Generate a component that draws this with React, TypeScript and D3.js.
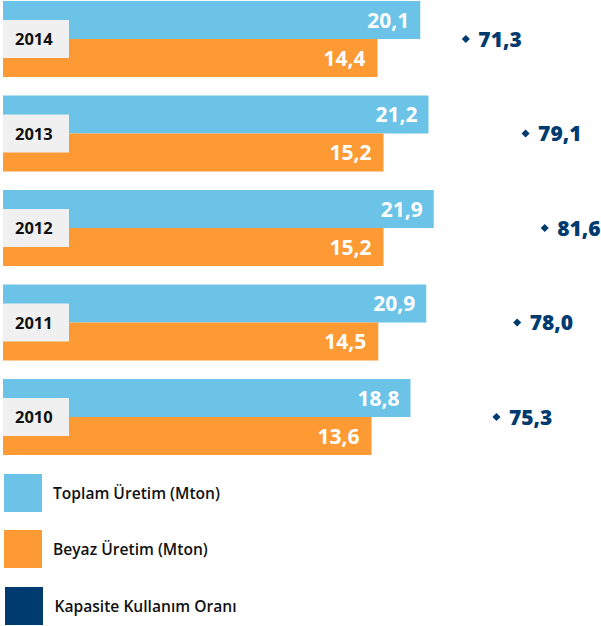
import React from "react";
import * as d3 from "d3";

const years = ["2014", "2013", "2012", "2011", "2010"];
const toplam = [20.1, 21.2, 21.9, 20.9, 18.8];
const beyaz = [14.4, 15.2, 15.2, 14.5, 13.6];
const kapasite = [71.3, 79.1, 81.6, 78.0, 75.3];
const legendLabels = ["Toplam Üretim (Mton)", "Beyaz Üretim (Mton)", "Kapasite Kullanım Oranı"];

const BLUE = "#6cc3e8";
const ORANGE = "#fd9a33";
const NAVY = "#003b6f";
const FONT = "'Open Sans', 'DejaVu Sans', sans-serif";

const fmt = (v: number) => v.toFixed(1).replace(".", ",");

export default function App() {
  const W = 601, H = 626;
  const left = 3;
  const x = d3.scaleLinear().domain([0, 22]).range([269.5, 434.5]);
  const xk = d3.scaleLinear().domain([70, 82]).range([455.9, 547.8]);
  const y = d3.scaleBand().domain(years).range([1, 455]).paddingInner(18.5 / 94.5).paddingOuter(0);
  const barH = y.bandwidth() / 2;
  const legendColors = [BLUE, ORANGE, NAVY];
  const legendY = [474, 530, 587];
  const diamond = d3.symbol().type(d3.symbolDiamond2).size(42)() as string;

  return (
    <svg width={W} height={H} style={{ position: "absolute", left: 0, top: 0, background: "#fff" }} fontFamily={FONT}>
      {years.map((yr, i) => {
        const y0 = y(yr)!;
        const mid = y0 + barH;
        return (
          <g key={yr}>
            <rect x={left} y={y0} width={x(toplam[i]) - left} height={barH} fill={BLUE} />
            <rect x={left} y={mid} width={x(beyaz[i]) - left} height={barH} fill={ORANGE} />
            <rect x={left} y={mid - 19} width={66} height={38} fill="#f0f0f0" />
            <text x={15} y={mid + 6.2} fontSize={16.5} fontWeight={700} fill="#111">{yr}</text>
            <text x={x(toplam[i]) - 11} y={y0 + barH / 2 + 7.6} textAnchor="end" fontSize={21} fontWeight={700} fill="#fff">{fmt(toplam[i])}</text>
            <text x={x(beyaz[i]) - 12} y={mid + barH / 2 + 7.6} textAnchor="end" fontSize={21} fontWeight={700} fill="#fff">{fmt(beyaz[i])}</text>
            <path d={diamond} transform={`translate(${xk(kapasite[i])},${mid})`} fill={NAVY} />
            <text x={xk(kapasite[i]) + 12.5} y={mid + 7.7} fontSize={21} fontWeight={800} fill={NAVY}>{fmt(kapasite[i])}</text>
          </g>
        );
      })}
      {legendLabels.map((lab, i) => (
        <g key={lab}>
          <rect x={i === 2 ? 5 : 4} y={legendY[i]} width={38} height={38} fill={legendColors[i]} />
          <text x={i === 2 ? 54.5 : 53} y={legendY[i] + 25.3} fontSize={15.6} fontWeight={600} fill="#111">{lab}</text>
        </g>
      ))}
    </svg>
  );
}
